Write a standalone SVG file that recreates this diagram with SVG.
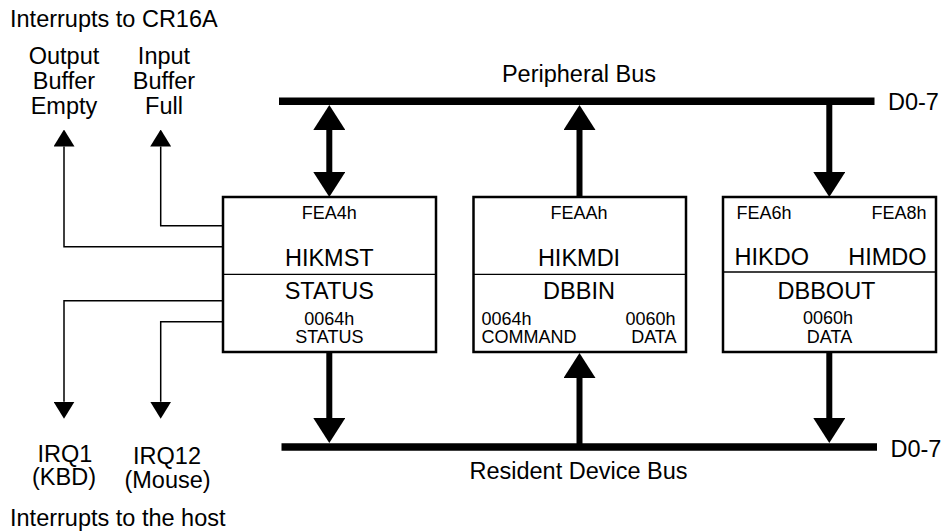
<svg xmlns="http://www.w3.org/2000/svg" width="945" height="531" viewBox="0 0 945 531">
<style>
text{font-family:"Liberation Sans",Arial,Helvetica,sans-serif;fill:#000}
.lg{font-size:23.5px}
.sm{font-size:18px}
.mid{text-anchor:middle}
.end{text-anchor:end}
.box{fill:#fff;stroke:#000;stroke-width:2.5}
.div{stroke:#000;stroke-width:1.3}
.bus{stroke:#000;stroke-width:7.5;fill:none}
.thick{stroke:#000;stroke-width:6;fill:none}
.thin{stroke:#000;stroke-width:1.5;fill:none}
</style>
<defs>
<marker id="big" markerUnits="userSpaceOnUse" viewBox="0 0 25 32" markerWidth="25" markerHeight="32" refX="0" refY="16" orient="auto-start-reverse"><path d="M0,0 L25,16 L0,32 z" fill="#000"/></marker>
<marker id="small" markerUnits="userSpaceOnUse" viewBox="0 0 17 21" markerWidth="17" markerHeight="21" refX="0" refY="10.5" orient="auto"><path d="M0,0 L17,10.5 L0,21 z" fill="#000"/></marker>
</defs>

<g id="labels">
<text class="lg" x="10" y="27">Interrupts to CR16A</text>
<text class="lg mid" x="64" y="63.5">Output</text>
<text class="lg mid" x="64" y="89">Buffer</text>
<text class="lg mid" x="64" y="113.5">Empty</text>
<text class="lg mid" x="164" y="63.5">Input</text>
<text class="lg mid" x="164" y="89">Buffer</text>
<text class="lg mid" x="164" y="113.5">Full</text>
<text class="lg mid" x="65" y="461.5">IRQ1</text>
<text class="lg mid" x="64" y="485">(KBD)</text>
<text class="lg mid" x="167" y="463.5">IRQ12</text>
<text class="lg mid" x="167.5" y="488">(Mouse)</text>
<text class="lg" x="10" y="526">Interrupts to the host</text>
</g>

<g id="peripheral-bus">
<line class="bus" x1="279" y1="101.3" x2="874.5" y2="101.3"/>
<text class="lg mid" x="579" y="81.5">Peripheral Bus</text>
<text class="lg" x="888" y="110">D0-7</text>
</g>

<g id="resident-bus">
<line class="bus" x1="281.5" y1="447" x2="877" y2="447"/>
<text class="lg mid" x="578.5" y="478.5">Resident Device Bus</text>
<text class="lg" x="890.5" y="456.5">D0-7</text>
</g>

<g id="hikmst">
<rect class="box" x="223" y="197" width="213" height="155"/>
<line class="div" x1="223" y1="274.3" x2="436" y2="274.3"/>
<text class="sm mid" x="329.3" y="219">FEA4h</text>
<text class="lg mid" x="329.3" y="266">HIKMST</text>
<text class="lg mid" x="329.3" y="299.3">STATUS</text>
<text class="sm mid" x="329.3" y="325">0064h</text>
<text class="sm mid" x="329.3" y="343.3">STATUS</text>
</g>

<g id="hikmdi">
<rect class="box" x="473.5" y="197" width="212.5" height="155"/>
<line class="div" x1="473.5" y1="274.3" x2="686" y2="274.3"/>
<text class="sm mid" x="579" y="219">FEAAh</text>
<text class="lg mid" x="579" y="266">HIKMDI</text>
<text class="lg mid" x="579" y="299.3">DBBIN</text>
<text class="sm" x="481.5" y="325">0064h</text>
<text class="sm" x="481.5" y="343.3">COMMAND</text>
<text class="sm end" x="675.5" y="325">0060h</text>
<text class="sm end" x="676.5" y="343.3">DATA</text>
</g>

<g id="hikdo-himdo">
<rect class="box" x="723" y="197" width="213" height="155"/>
<line class="div" x1="723" y1="272" x2="936" y2="272"/>
<text class="sm" x="736.5" y="218.5">FEA6h</text>
<text class="sm end" x="926.5" y="218.5">FEA8h</text>
<text class="lg" x="734.5" y="265">HIKDO</text>
<text class="lg end" x="926.5" y="265">HIMDO</text>
<text class="lg mid" x="826.5" y="299">DBBOUT</text>
<text class="sm mid" x="828" y="323.5">0060h</text>
<text class="sm mid" x="829.5" y="343.3">DATA</text>
</g>

<g id="connectors">
<line class="thick" x1="329.3" y1="130" x2="329.3" y2="172" marker-start="url(#big)" marker-end="url(#big)"/>
<line class="thick" x1="579.5" y1="197" x2="579.5" y2="130" marker-end="url(#big)"/>
<line class="thick" x1="829.3" y1="101" x2="829.3" y2="172" marker-end="url(#big)"/>
<line class="thick" x1="329.3" y1="352" x2="329.3" y2="418" marker-end="url(#big)"/>
<line class="thick" x1="579.5" y1="447" x2="579.5" y2="378" marker-end="url(#big)"/>
<line class="thick" x1="829.3" y1="352" x2="829.3" y2="418" marker-end="url(#big)"/>
<polyline class="thin" points="222,246.7 64,246.7 64,146.5" marker-end="url(#small)"/>
<polyline class="thin" points="222,225.7 160.7,225.7 160.7,146.5" marker-end="url(#small)"/>
<polyline class="thin" points="222,300.7 64,300.7 64,401.7" marker-end="url(#small)"/>
<polyline class="thin" points="222,321.7 160.7,321.7 160.7,401.7" marker-end="url(#small)"/>
</g>
</svg>
